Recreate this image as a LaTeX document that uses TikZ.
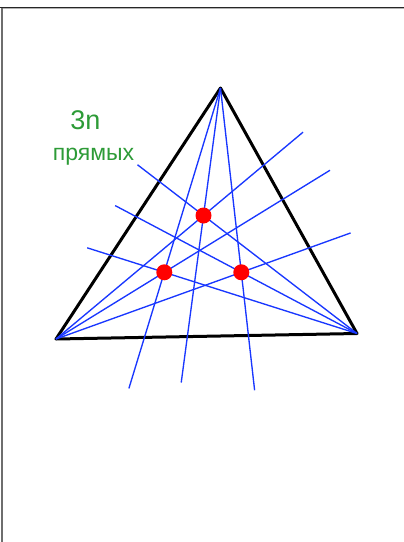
\documentclass[tikz,border=0pt]{standalone}
\usepackage{fontspec}
\setmainfont{Liberation Sans}
\usetikzlibrary{calc}
\definecolor{ceviangreen}{RGB}{45,155,55}
\definecolor{cevianblue}{RGB}{25,55,255}
\definecolor{frame}{RGB}{110,110,110}

\begin{document}
\begin{tikzpicture}[x=1pt,y=-1pt,
    side/.style={black,line width=3pt,line join=round},
    ray/.style={cevianblue,line width=1.35pt},
    meet/.style={circle,fill=red,inner sep=0pt,minimum size=16pt},
    lbl/.style={ceviangreen}]
  \useasboundingbox (0,0) rectangle (404,542);
  % window frame
  \draw[frame,line width=2pt] (2,8) -- (2,542);
  \draw[black!85,line width=1.4pt] (0,7.3) -- (404,7.3);
  \draw[black!30,line width=0.8pt] (3,8.8) -- (404,8.8);
  % triangle
  \coordinate (A) at (220.5,88);
  \coordinate (B) at (56,339);
  \coordinate (C) at (357,333.5);
  \draw[side] (A) -- (B) -- (C) -- cycle;
  % common points of three lines
  \coordinate (P1) at (203.5,215.5);
  \coordinate (P2) at (164.3,272.3);
  \coordinate (P3) at (241.3,272.3);
  \foreach \v/\p/\f/\n in {A/P1/2.31/a1, A/P2/1.63/a2, A/P3/1.64/a3,
      B/P1/1.675/b1, B/P2/2.53/b2, B/P3/1.59/b3,
      C/P1/1.43/c1, C/P2/1.40/c2, C/P3/2.09/c3}{
    \coordinate (\n) at ($(\v)!\f!(\p)$);
    \draw[ray] (\v) -- (\n);
  }
  \foreach \p in {P1,P2,P3}
    \node[meet] (m\p) at (\p) {};
  % label
  \node[lbl,font=\fontsize{27}{27}\selectfont,anchor=base] (num) at (85.5,129.5) {3n};
  \node[lbl,font=\fontsize{23}{23}\selectfont,anchor=base] (word) at (93.5,160) {прямых};
\end{tikzpicture}
\end{document}
